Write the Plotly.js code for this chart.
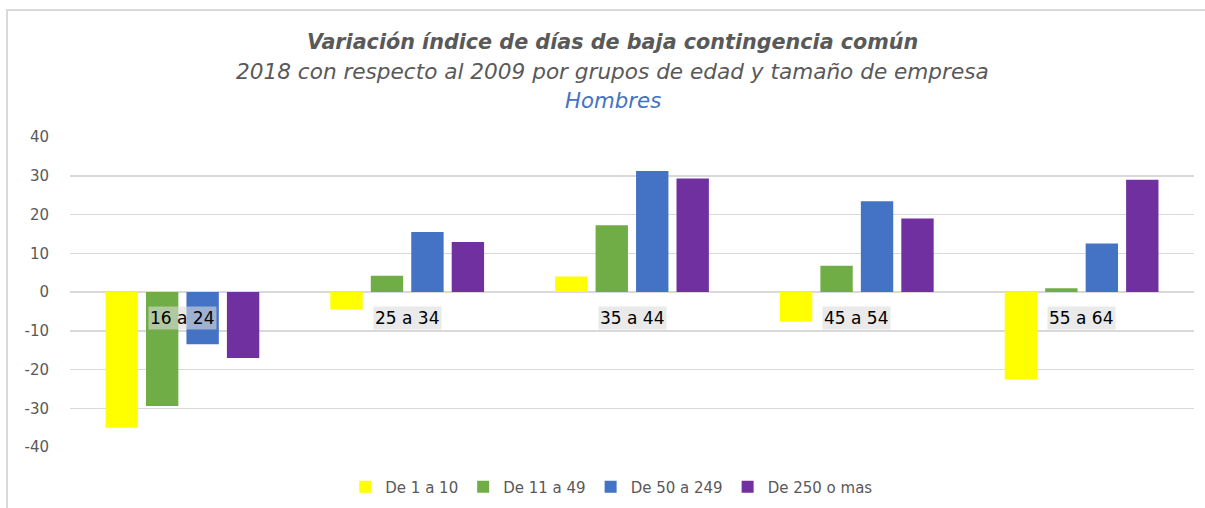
<!DOCTYPE html>
<html>
<head>
<meta charset="utf-8">
<script src="https://cdn.plot.ly/plotly-3.0.1.min.js"></script>
<style>
html,body{margin:0;padding:0;background:#fff;}
#wrap{position:relative;width:1205px;height:508px;overflow:hidden;}
#chart{width:1205px;height:508px;}
#frame{position:absolute;left:6px;top:9px;width:1205px;height:520px;border-top:2px solid #d9d9d9;border-left:2px solid #d9d9d9;pointer-events:none;box-sizing:border-box;}
</style>
</head>
<body>
<div id="wrap"><div id="chart"></div><div id="frame"></div></div>
<script>
const categories = ["16 a 24", "25 a 34", "35 a 44", "45 a 54", "55 a 64"];
const seriesNames = ["De 1 a 10", "De 11 a 49", "De 50 a 249", "De 250 o mas"];
const de1a10 = [-35.0, -4.5, 4.0, -7.7, -22.6];
const de11a49 = [-29.4, 4.2, 17.2, 6.8, 1.0];
const de50a249 = [-13.5, 15.5, 31.2, 23.4, 12.5];
const de250omas = [-17.0, 12.9, 29.3, 19.0, 29.0];
const colors = ["#FFFF00", "#70AD47", "#4472C4", "#7030A0"];
const yTicks = [-40, -30, -20, -10, 0, 10, 20, 30, 40];
const titleLines = [
  "Variación índice de días de baja contingencia común",
  "2018 con respecto al 2009 por grupos de edad y tamaño de empresa",
  "Hombres"
];

const values = [de1a10, de11a49, de50a249, de250omas];
const traces = values.map((v, i) => ({
  type: "bar",
  name: seriesNames[i],
  x: categories,
  y: v,
  marker: {color: colors[i], line: {width: 0}}
}));

const labelAnnotations = categories.map(c => ({
  x: c, y: 0, xref: "x", yref: "y",
  text: c, showarrow: false,
  yanchor: "top", yshift: -14,
  font: {family: "DejaVu Sans, Verdana, sans-serif", size: 17, color: "#000"},
  bgcolor: "rgba(220,220,220,0.6)",
  borderpad: 1
}));

const titleFont = "DejaVu Sans, Verdana, sans-serif";
const titleAnnotations = [
  {text: "<b><i>" + titleLines[0] + "</i></b>", y: 1.306, color: "#595959", size: 20.7},
  {text: "<i>" + titleLines[1] + "</i>", y: 1.210, color: "#595959", size: 21.6},
  {text: "<i>" + titleLines[2] + "</i>", y: 1.119, color: "#4472C4", size: 21.3}
].map(t => ({
  text: t.text, xref: "paper", yref: "paper", x: 0.483, y: t.y,
  xanchor: "center", yanchor: "middle", showarrow: false,
  font: {family: titleFont, size: t.size, color: t.color}
}));

const layout = {
  width: 1205, height: 508,
  paper_bgcolor: "rgba(0,0,0,0)",
  plot_bgcolor: "rgba(0,0,0,0)",
  margin: {l: 70, r: 11, t: 137, b: 61, autoexpand: false},
  barmode: "group",
  bargap: 0.28,
  bargroupgap: 0.2,
  xaxis: {
    showticklabels: false, showgrid: false, zeroline: false, ticks: "",
    fixedrange: true
  },
  yaxis: {
    range: [-40, 40],
    tickvals: yTicks,
    ticktext: yTicks.map(String),
    tickfont: {family: "DejaVu Sans, Verdana, sans-serif", size: 15, color: "#595959"},
    gridcolor: "#d9d9d9", gridwidth: 1.5,
    zeroline: true, zerolinecolor: "#d9d9d9", zerolinewidth: 1.5,
    ticks: "", ticklabelstandoff: 20
  },
  showlegend: true,
  legend: {
    orientation: "h",
    x: 0.482, xanchor: "center",
    y: -0.129, yanchor: "middle",
    font: {family: "DejaVu Sans, Verdana, sans-serif", size: 15, color: "#595959"},
    itemwidth: 30,
    traceorder: "normal"
  },
  annotations: titleAnnotations.concat(labelAnnotations)
};

Plotly.newPlot("chart", traces, layout, {displayModeBar: false, staticPlot: true});
</script>
</body>
</html>
